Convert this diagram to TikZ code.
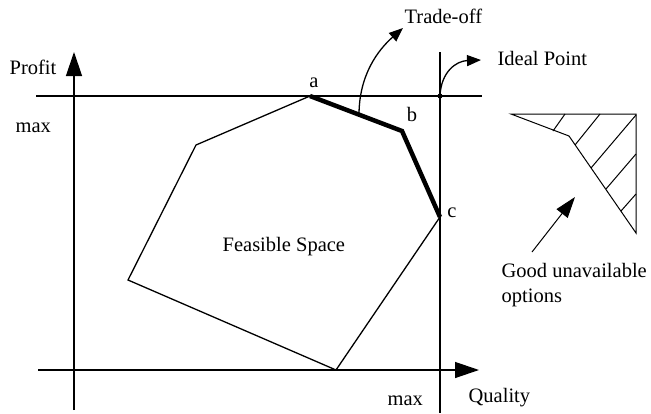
\documentclass[tikz,border=0pt]{standalone}
\usepackage{fontspec}
\setmainfont{Liberation Serif}
\usetikzlibrary{arrows.meta}
\begin{document}
\begin{tikzpicture}[x=1pt,y=-1pt, line width=1.3pt,
  lbl/.style={font=\fontsize{20.5}{25}\selectfont, inner sep=0pt},
  bigarrow/.style={-{Triangle[length=24pt,width=16pt]}},
  midarrow/.style={-{Triangle[length=21pt,width=14pt]}},
  smallarrow/.style={-{Triangle[length=14pt,width=11pt]}},
  thickline/.style={line width=4.5pt, line join=miter},
  hatch/.style={line width=1pt}
]
\useasboundingbox (0,0) rectangle (651,413);
% axes
\coordinate (yb) at (74,410);
\coordinate (yt) at (74,52);
\coordinate (xl) at (38,370);
\coordinate (xr) at (479,370);
\coordinate (ml) at (36,96);
\coordinate (mr) at (482,96);
\coordinate (vt) at (440,52);
\coordinate (vb) at (440,413);
\draw[bigarrow] (yb) -- (yt);
\draw[bigarrow] (xl) -- (xr);
\draw (ml) -- (mr);
\draw (vt) -- (vb);
% feasible polygon
\coordinate (a) at (310,96);
\coordinate (b) at (402,131);
\coordinate (c) at (440,217);
\coordinate (d) at (336,370);
\coordinate (e) at (128,280);
\coordinate (f) at (196,145);
\draw (c) -- (d) -- (e) -- (f) -- (a);
\draw[thickline] (a) -- (b) -- (c);
% ideal point
\node[circle, fill, inner sep=0pt, minimum size=5pt] (ideal) at (440,96) {};
\coordinate (idealtip) at (481,60);
\draw[smallarrow] (ideal.center) .. controls (441,72) and (456,61) .. (idealtip);
% trade-off arrow
\coordinate (tostart) at (359,115);
\coordinate (totip) at (403,28);
\draw[smallarrow] (tostart) .. controls (359,75) and (378,50) .. (totip);
% hatched region
\coordinate (h1) at (511,114);
\coordinate (h2) at (636,114);
\coordinate (h3) at (636,233);
\coordinate (h4) at (569,136);
\draw[hatch] (h1) -- (h2) -- (h3) -- (h4) -- cycle;
\draw[hatch] (553,131) -- (565,114);
\draw[hatch] (575,145) -- (600,114);
\draw[hatch] (591,168) -- (636,115);
\draw[hatch] (606,189) -- (636,154);
\draw[hatch] (621,211) -- (636,194);
% arrow to hatched region
\coordinate (gstart) at (532,252);
\coordinate (gtip) at (575,197);
\draw[midarrow, line width=1pt] (gstart) -- (gtip);
% labels
\node[lbl, anchor=base west] (profit) at (9,74) {Profit};
\node[lbl, anchor=base west] (maxl) at (15,132) {max};
\node[lbl, anchor=base west] (maxb) at (387,405) {max};
\node[lbl, anchor=base west] (quality) at (468,402) {Quality};
\node[lbl, anchor=base] (la) at (314,87) {a};
\node[lbl, anchor=base] (lb) at (412,121) {b};
\node[lbl, anchor=base] (lc) at (452,217) {c};
\node[lbl, anchor=base west] (feas) at (222,251) {Feasible Space};
\node[lbl, anchor=base west] (tradeoff) at (404,23) {Trade-off};
\node[lbl, anchor=base west] (idealtxt) at (497,65) {Ideal Point};
\node[lbl, anchor=north west, align=left] (good) at (501,263) {Good unavailable\\options};
\end{tikzpicture}
\end{document}
